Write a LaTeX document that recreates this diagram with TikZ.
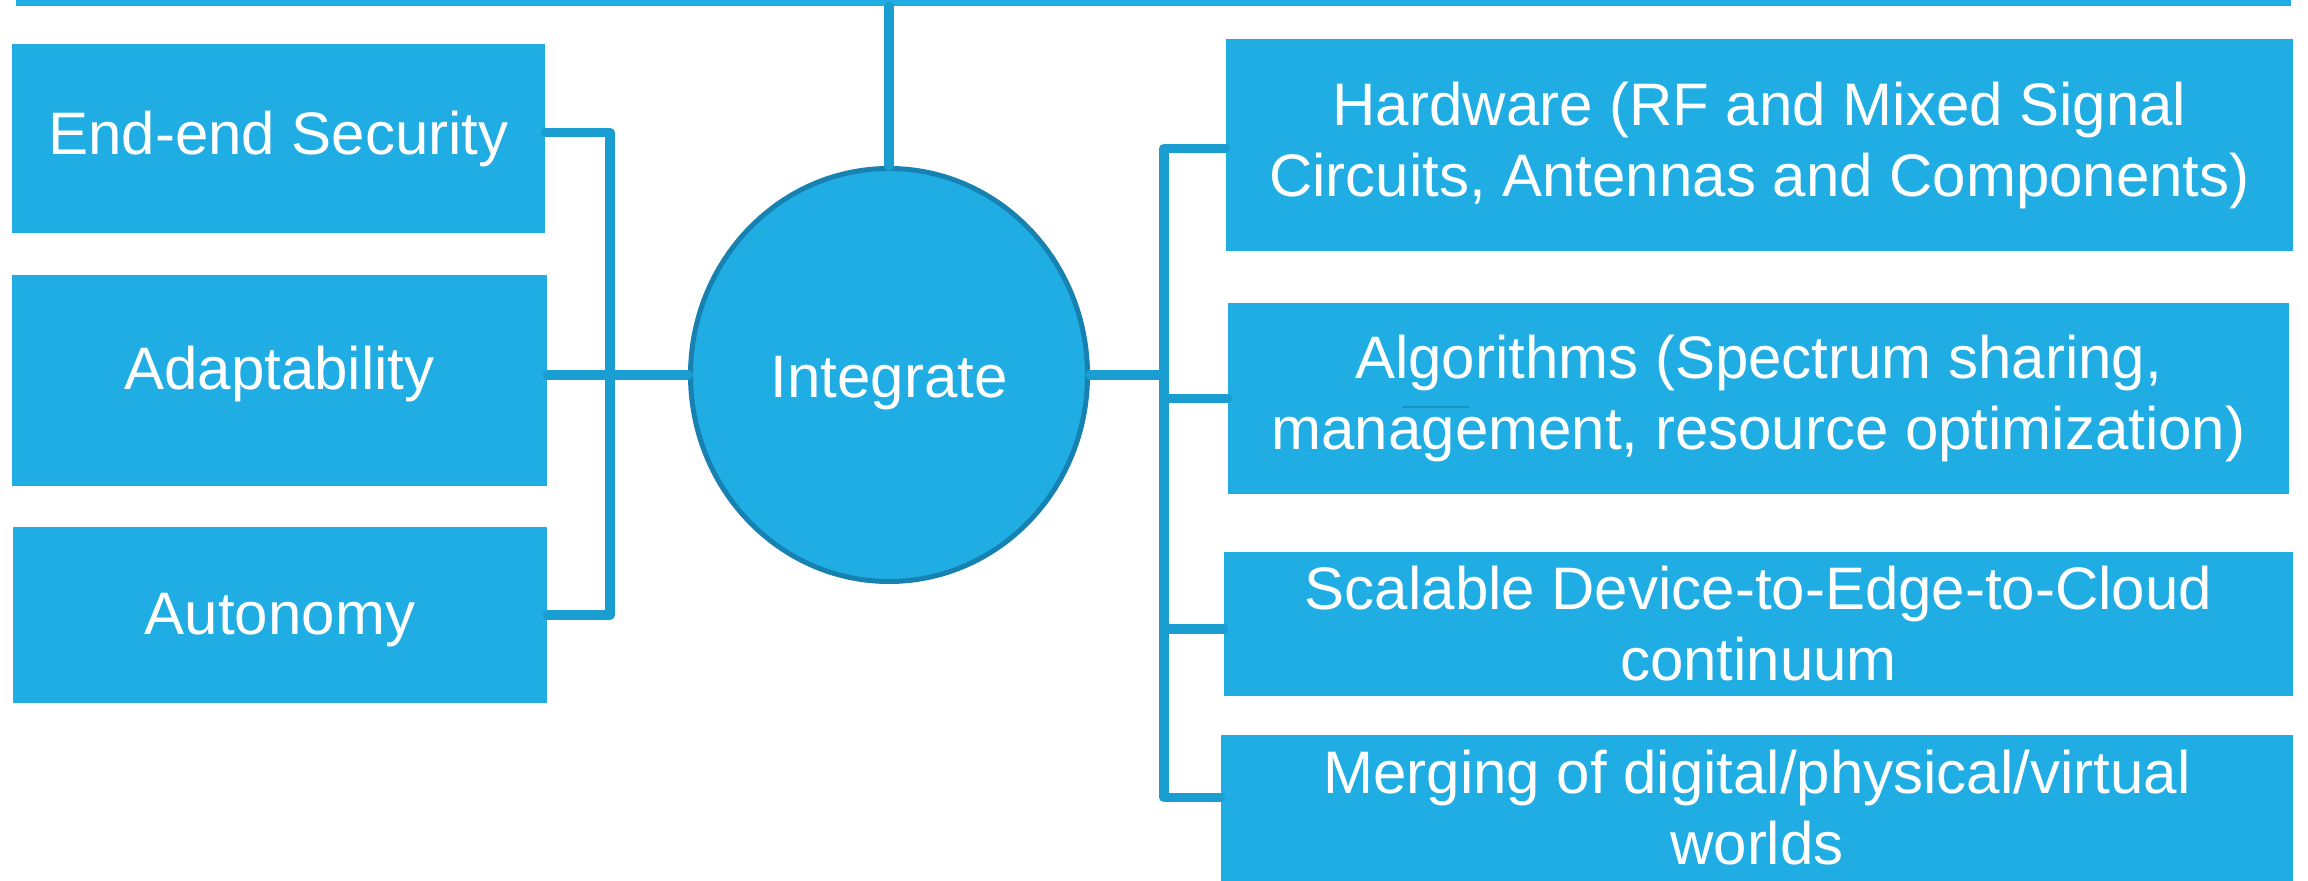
\documentclass[tikz,border=0pt]{standalone}
\usepackage{fontspec}
\setmainfont{Liberation Sans}
\usetikzlibrary{shapes.geometric}
\definecolor{boxblue}{HTML}{1FADE4}
\definecolor{connblue}{HTML}{1A9DD0}
\definecolor{ringblue}{HTML}{1782B2}
\definecolor{markblue}{HTML}{1A90C4}
\tikzset{
  box/.style={rectangle, fill=boxblue, draw=none, inner sep=0pt, text=white,
    align=center, font=\fontsize{30}{35.5}\selectfont},
  conn/.style={draw=connblue, line width=4.75pt, line cap=round, line join=round},
  hub/.style={ellipse, fill=boxblue, draw=ringblue, line width=2.5pt, inner sep=0pt,
    text=white, font=\fontsize{30}{35}\selectfont,
    minimum width=198.5pt, minimum height=206.5pt}
}
\begin{document}
\begin{tikzpicture}[x=0.5pt, y=-0.5pt]
\clip (0,0) rectangle (2308,881);
% top bar
\node[box, minimum width=1137.5pt, minimum height=13pt] (topbar) at (1153.5,-7) {};
% left boxes
\node[box, minimum width=266.5pt, minimum height=94.5pt] (sec) at (278.5,138.5) {End-end Security};
\node[box, minimum width=267.5pt, minimum height=105.5pt, text height=16pt, text depth=6.5pt] (ada) at (279.5,380.5) {Adaptability};
\node[box, minimum width=267pt, minimum height=88pt, text height=22pt, text depth=2pt] (aut) at (280,615) {Autonomy};
% right boxes
\node[box, minimum width=533.5pt, minimum height=106pt] (hw) at (1759.5,145)
  {Hardware (RF and Mixed Signal\\Circuits, Antennas and Components)};
\node[box, minimum width=530.5pt, minimum height=95.5pt] (alg) at (1758.5,398.5)
  {Algorithms (Spectrum sharing,\\management, resource optimization)};
\node[box, minimum width=534.5pt, minimum height=72pt] (sca) at (1758.5,624)
  {Scalable Device-to-Edge-to-Cloud\\continuum};
\node[box, minimum width=536pt, minimum height=73pt] (mer) at (1757,808)
  {Merging of digital/physical/virtual\\worlds};
% hub
\node[hub, text height=23pt, text depth=0pt] (hubc) at (889,375) {Integrate};
% stray mark
\draw[markblue, line width=1.25pt] (1402,407) -- (1469,407);
% left connectors
\coordinate (lj1) at (610,132.5);
\coordinate (lj3) at (lj1 |- aut.east);
\draw[conn] ([yshift=3pt]sec.east) -- (lj1) -- (lj3) -- (aut.east);
\draw[conn] (ada.east |- hubc.west) -- (hubc.west);
% top connector
\draw[conn] (hubc.north |- topbar.south) -- (hubc.north);
% right connectors
\coordinate (rj1) at (1164,148.5);
\coordinate (rj4) at (1164,797.5);
\draw[conn] ([yshift=-1.75pt]hw.west) -- (rj1) -- (rj4) -- ([yshift=5.25pt]mer.west);
\draw[conn] (rj1 |- alg.west) -- (alg.west);
\draw[conn] (rj1 |- 0,629) -- ([yshift=-2.5pt]sca.west);
\draw[conn] (hubc.east) -- (rj1 |- hubc.east);
\end{tikzpicture}
\end{document}
